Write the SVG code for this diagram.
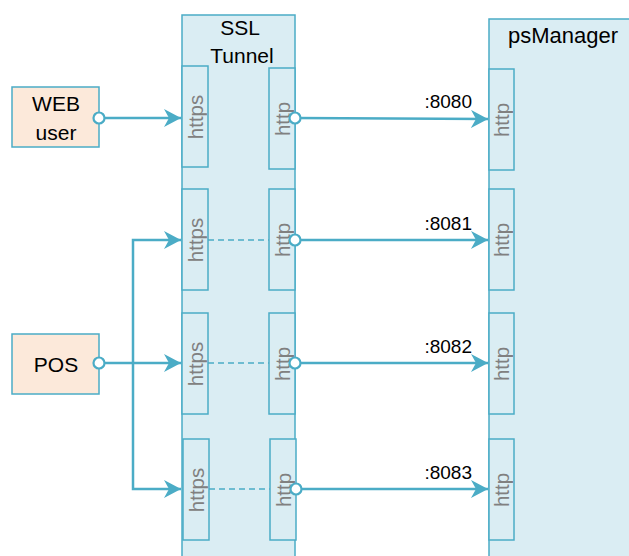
<svg xmlns="http://www.w3.org/2000/svg" width="629" height="556" viewBox="0 0 629 556">
<style>
.box{fill:#DAEDF3;stroke:#4BACC6;stroke-width:1.5}
.src{fill:#FCE9DA;stroke:#4BACC6;stroke-width:1.5}
.port{fill:#DAEDF3;stroke:#4BACC6;stroke-width:1.5}
.t{font-family:"Liberation Sans",Arial,sans-serif;font-size:21px;fill:#000}
.pl{font-family:"Liberation Sans",Arial,sans-serif;font-size:20.5px;fill:#808080;text-anchor:middle}
.lab{font-family:"Liberation Sans",Arial,sans-serif;font-size:19px;fill:#000;text-anchor:end}
.ln{fill:none;stroke:#4BACC6;stroke-width:2.5}
.dash{fill:none;stroke:#4BACC6;stroke-width:1.5;stroke-dasharray:6,4}
.dot{fill:#fff;stroke:#4BACC6;stroke-width:2.2}
</style>
<defs>
<marker id="arr" viewBox="-17 -9 18 18" refX="0" refY="0" markerWidth="18" markerHeight="18" markerUnits="userSpaceOnUse" orient="auto">
<path d="M0,0 L-17,-9 L-12,0 L-17,9 Z" fill="#4BACC6"/>
</marker>
</defs>
<rect width="629" height="556" fill="#fff"/>

<g id="ssl-tunnel">
<rect class="box" x="182" y="15" width="113" height="550"/>
<text class="t" x="240" y="35" text-anchor="middle">SSL</text>
<text class="t" x="242" y="63" text-anchor="middle">Tunnel</text>
<rect class="port" x="182" y="66" width="26" height="101"/>
<text class="pl" transform="translate(195,117) rotate(-90)" y="7.5">https</text>
<rect class="port" x="269" y="68" width="26" height="101"/>
<text class="pl" transform="translate(282,119) rotate(-90)" y="7.5">http</text>
<rect class="port" x="182" y="189" width="26" height="101"/>
<text class="pl" transform="translate(195,240) rotate(-90)" y="7.5">https</text>
<rect class="port" x="269" y="189" width="26" height="101"/>
<text class="pl" transform="translate(282,240) rotate(-90)" y="7.5">http</text>
<rect class="port" x="182" y="313" width="26" height="101"/>
<text class="pl" transform="translate(195,364) rotate(-90)" y="7.5">https</text>
<rect class="port" x="269" y="313" width="26" height="101"/>
<text class="pl" transform="translate(282,364) rotate(-90)" y="7.5">http</text>
<rect class="port" x="183" y="439" width="26" height="101"/>
<text class="pl" transform="translate(196,490) rotate(-90)" y="7.5">https</text>
<rect class="port" x="270" y="439" width="26" height="101"/>
<text class="pl" transform="translate(283,490) rotate(-90)" y="7.5">http</text>
</g>

<g id="psmanager">
<rect class="box" x="489" y="19" width="150" height="550"/>
<text class="t" x="508" y="43" style="font-size:22px">psManager</text>
<rect class="port" x="489" y="69" width="25" height="101"/>
<text class="pl" transform="translate(501.5,120) rotate(-90)" y="7.5">http</text>
<rect class="port" x="489" y="189" width="25" height="101"/>
<text class="pl" transform="translate(501.5,240) rotate(-90)" y="7.5">http</text>
<rect class="port" x="489" y="313" width="25" height="101"/>
<text class="pl" transform="translate(501.5,364) rotate(-90)" y="7.5">http</text>
<rect class="port" x="489" y="439" width="25" height="101"/>
<text class="pl" transform="translate(501.5,490) rotate(-90)" y="7.5">http</text>
</g>

<g id="web-user">
<rect class="src" x="12" y="87" width="87" height="60"/>
<text class="t" x="56" y="111" text-anchor="middle">WEB</text>
<text class="t" x="56" y="140" text-anchor="middle">user</text>
</g>

<g id="pos">
<rect class="src" x="12" y="334" width="87" height="60"/>
<text class="t" x="56" y="372" text-anchor="middle">POS</text>
</g>

<g id="connectors">
<path class="ln" d="M99,118 H181" marker-end="url(#arr)"/>
<path class="ln" d="M295,118 L488,119" marker-end="url(#arr)"/>
<path class="ln" d="M99,363 H181" marker-end="url(#arr)"/>
<path class="ln" d="M133,363 V240 H181" marker-end="url(#arr)"/>
<path class="ln" d="M133,363 V489 H181" marker-end="url(#arr)"/>
<path class="ln" d="M295,240 H488" marker-end="url(#arr)"/>
<path class="ln" d="M295,363 H488" marker-end="url(#arr)"/>
<path class="ln" d="M296,489 H488" marker-end="url(#arr)"/>
<path class="dash" d="M208,240 H269"/>
<path class="dash" d="M208,363 H269"/>
<path class="dash" d="M209,489 H270"/>
<circle class="dot" cx="99" cy="118" r="5.5"/>
<circle class="dot" cx="295" cy="118" r="5.5"/>
<circle class="dot" cx="99" cy="363" r="5.5"/>
<circle class="dot" cx="295" cy="240" r="5.5"/>
<circle class="dot" cx="295" cy="363" r="5.5"/>
<circle class="dot" cx="296" cy="489" r="5.5"/>
<text class="lab" x="472" y="108">:8080</text>
<text class="lab" x="472" y="230">:8081</text>
<text class="lab" x="472" y="353">:8082</text>
<text class="lab" x="472" y="479">:8083</text>
</g>
</svg>
